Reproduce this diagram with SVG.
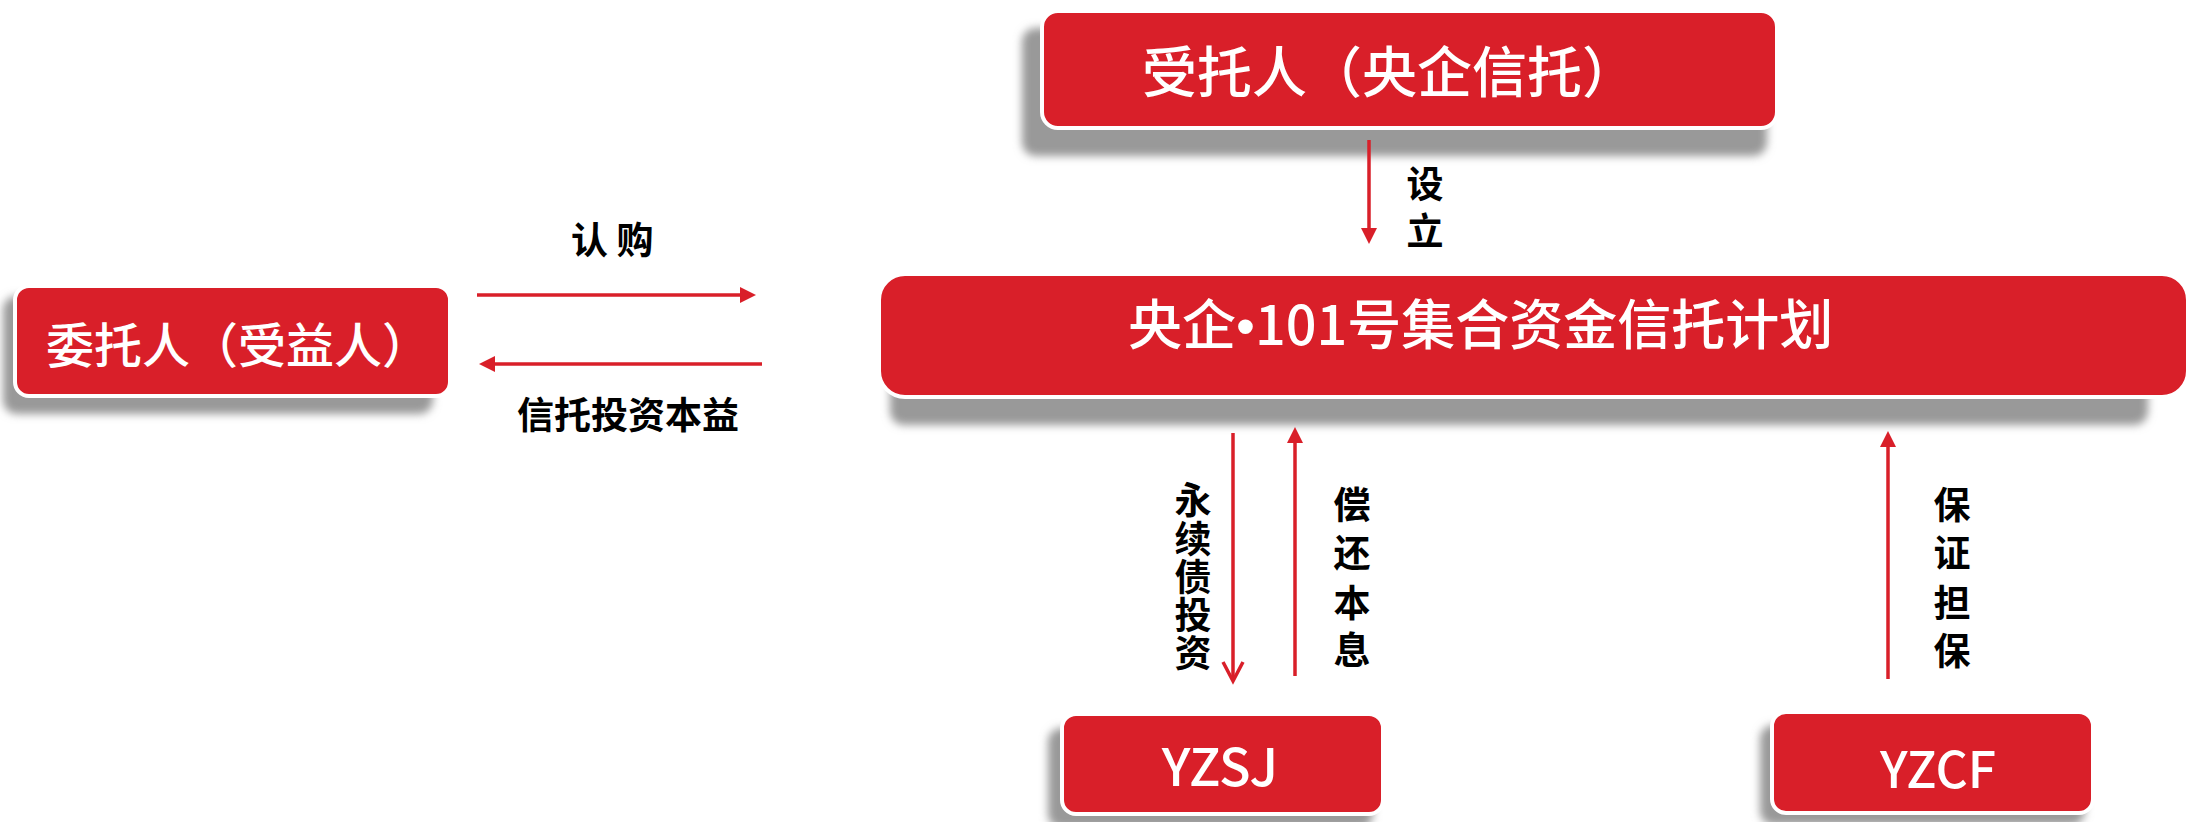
<svg xmlns="http://www.w3.org/2000/svg" width="2190" height="822" viewBox="0 0 2190 822">
  <defs>
    <filter id="blur" x="-10%" y="-30%" width="120%" height="160%">
      <feGaussianBlur stdDeviation="4"/>
    </filter>
    <marker id="tri" markerUnits="userSpaceOnUse" markerWidth="17" markerHeight="17" refX="0" refY="8" orient="auto">
      <path d="M0,0 L16,8 L0,16 z" fill="#d91f29"/>
    </marker>
    <marker id="chev" markerUnits="userSpaceOnUse" markerWidth="24" markerHeight="26" refX="20" refY="12" orient="auto">
      <path d="M1,2 L20,12 L1,22" fill="none" stroke="#d91f29" stroke-width="3.5"/>
    </marker>
  </defs>
  <style>
    .shadow { fill: #999999; filter: url(#blur); }
    .box { fill: #d91f29; stroke: #ffffff; stroke-width: 4; }
    .bt { fill: #ffffff; font-family: "Noto Sans CJK SC", "Noto Sans", sans-serif; font-weight: 500; }
    .lbl { fill: #000000; font-family: "Noto Sans CJK SC", "Noto Sans", sans-serif; font-weight: 700; font-size: 37px; }
    .conn { stroke: #d91f29; stroke-width: 3.5; fill: none; }
  </style>
  <rect width="2190" height="822" fill="#ffffff"/>

  <g id="trustee">
    <rect class="shadow" x="1022" y="28" width="745" height="128" rx="14"/>
    <rect class="box" x="1042" y="11" width="735" height="117" rx="16"/>
    <text class="bt" x="1142" y="92" font-size="55">受托人（央企信托）</text>
  </g>

  <g id="settlor">
    <rect class="shadow" x="3" y="296" width="430" height="118" rx="14"/>
    <rect class="box" x="15" y="286" width="435" height="110" rx="14"/>
    <text class="bt" x="46" y="363" font-size="48">委托人（受益人）</text>
  </g>

  <g id="plan">
    <rect class="shadow" x="890" y="290" width="1258" height="135" rx="14"/>
    <rect class="box" x="879" y="274" width="1309" height="123" rx="26"/>
    <text class="bt" x="1128" y="345" font-size="54" font-weight="700">央企<tspan font-family="'Liberation Sans', sans-serif">•</tspan>101号集合资金信托计划</text>
  </g>

  <g id="yzsj">
    <rect class="shadow" x="1048" y="728" width="325" height="100" rx="14"/>
    <rect class="box" x="1062" y="714" width="321" height="100" rx="14"/>
    <text class="bt" x="1220" y="786" font-size="52" text-anchor="middle">YZSJ</text>
  </g>

  <g id="yzcf">
    <rect class="shadow" x="1760" y="725" width="325" height="100" rx="14"/>
    <rect class="box" x="1772" y="712" width="321" height="101" rx="14"/>
    <text class="bt" x="1938" y="788" font-size="50" text-anchor="middle">YZCF</text>
  </g>

  <g id="connectors">
    <line class="conn" x1="1369" y1="140" x2="1369" y2="228" marker-end="url(#tri)"/>
    <line class="conn" x1="477" y1="295" x2="740" y2="295" marker-end="url(#tri)"/>
    <line class="conn" x1="762" y1="364" x2="495" y2="364" marker-end="url(#tri)"/>
    <line class="conn" x1="1233" y1="433" x2="1233" y2="681" marker-end="url(#chev)"/>
    <line class="conn" x1="1295" y1="676" x2="1295" y2="443" marker-end="url(#tri)"/>
    <line class="conn" x1="1888" y1="679" x2="1888" y2="447" marker-end="url(#tri)"/>
  </g>

  <g id="labels">
    <text class="lbl" text-anchor="middle" font-size="36"><tspan x="1425" y="198">设</tspan><tspan x="1425" y="245">立</tspan></text>
    <text class="lbl" x="571" y="254" font-size="34">认 购</text>
    <text class="lbl" x="517" y="429" font-weight="500">信托投资本益</text>
    <text class="lbl" text-anchor="middle" font-weight="500" font-size="36"><tspan x="1193" y="514">永</tspan><tspan x="1193" y="553">续</tspan><tspan x="1193" y="591">债</tspan><tspan x="1193" y="629">投</tspan><tspan x="1193" y="667">资</tspan></text>
    <text class="lbl" text-anchor="middle" font-weight="500"><tspan x="1352" y="519">偿</tspan><tspan x="1352" y="567">还</tspan><tspan x="1352" y="617">本</tspan><tspan x="1352" y="664">息</tspan></text>
    <text class="lbl" text-anchor="middle"><tspan x="1952" y="519">保</tspan><tspan x="1952" y="567">证</tspan><tspan x="1952" y="617">担</tspan><tspan x="1952" y="665">保</tspan></text>
  </g>
</svg>
